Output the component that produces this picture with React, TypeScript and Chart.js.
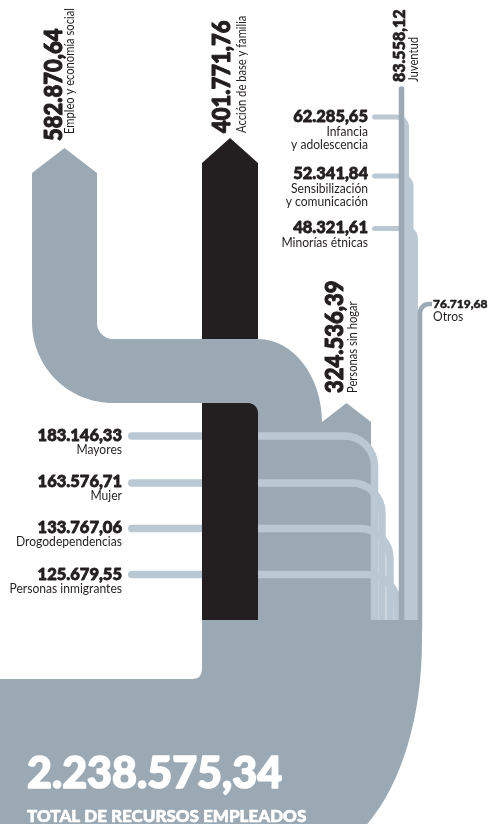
import React, { useEffect, useRef } from "react";
import { Chart, registerables } from "chart.js";

Chart.register(...registerables);

// ---------------- DATA ----------------
const mainNames = ["Empleo y economía social", "Acción de base y familia", "Personas sin hogar"];
const mainValues = [582870.64, 401771.76, 324536.39];

const leftNames = ["Mayores", "Mujer", "Drogodependencias", "Personas inmigrantes"];
const leftValues = [183146.33, 163576.71, 133767.06, 125679.55];

const rightNames = [["Infancia", "y adolescencia"], ["Sensibilización", "y comunicación"], ["Minorías étnicas"]];
const rightValues = [62285.65, 52341.84, 48321.61];

const youthName = "Juventud";
const youthValue = 83558.12;

const otherName = "Otros";
const otherValue = 76719.68;

const totalValue = 2238575.34;
const totalTitle = "TOTAL DE RECURSOS EMPLEADOS";

// ---------------- STYLE / LAYOUT ----------------
const W = 490;
const H = 824;
const GRAY = "#9ba9b4";
const LIGHT = "#bac8d4";
const BLACK = "#231f20";
const TEXT = "#231f20";
const NUM_FONT = "Lato";
const LBL_FONT = "Lato";
const LBL_SQUEEZE = 0.93;
const LBL_ROT_SQUEEZE = 0.86;
const NUM_SQUEEZE = 0.88;

const MERGE_Y = 620; // where all flows join the total
const L = {
  empleo: { left: 32, right: 97, tip: 148, shoulder: 173, hTop: 339, hBottom: 403, innerR: 16, outerR: 81, downLeft: 258, downRight: 322, bend: 422 },
  accion: { left: 202, right: 258, tip: 138, shoulder: 163, cornerR: 12 },
  sinHogar: { left: 322, right: 371, tip: 403, shoulder: 422 },
  total: { left: 202, right: 422, curveTop: 640, bottomX: 362, bottom: 830, notchY: 679, notchR: 10 },
  leftLines: { startX: 128, ys: [436, 483, 528.5, 574.5], xs: [374.5, 382, 390, 397.5], r: 30, w: 7.5, labelX: 122, numBase: [441, 487, 533, 580] },
  rightLines: { startX: 372, ys: [117, 176, 228.5], xs: [406.5, 411, 415.5], r: 10, w: 5, labelX: 368, numBase: [122, 179, 233] },
  youth: { x: 401.5, top: 89, w: 5.5 },
  other: { x: 420, y: 304, endX: 432, r: 9, w: 4.5 },
};

function fmt(v: number): string {
  const [i, d] = v.toFixed(2).split(".");
  return i.replace(/\B(?=(\d{3})+(?!\d))/g, ".") + "," + d;
}

const flowPlugin = {
  id: "flowPlugin",
  afterDraw(chart: any) {
    const ctx: CanvasRenderingContext2D = chart.ctx;
    const xs = chart.scales.x;
    const ys = chart.scales.y;
    const X = (v: number) => xs.getPixelForValue(v);
    const Y = (v: number) => ys.getPixelForValue(v);
    const R = (v: number) => Math.abs(X(v) - X(0));
    const K = 0.5523;

    ctx.save();

    // ---- black bar (Acción de base y familia), full height
    const a = L.accion;
    ctx.fillStyle = BLACK;
    ctx.beginPath();
    ctx.moveTo(X((a.left + a.right) / 2), Y(a.tip));
    ctx.lineTo(X(a.right), Y(a.shoulder));
    ctx.lineTo(X(a.right), Y(MERGE_Y));
    ctx.lineTo(X(a.left), Y(MERGE_Y));
    ctx.lineTo(X(a.left), Y(a.shoulder));
    ctx.closePath();
    ctx.fill();

    // ---- Empleo flow (gray)
    const e = L.empleo;
    ctx.fillStyle = GRAY;
    ctx.beginPath();
    ctx.moveTo(X((e.left + e.right) / 2), Y(e.tip));
    ctx.lineTo(X(e.right), Y(e.shoulder));
    ctx.lineTo(X(e.right), Y(e.hTop - e.innerR));
    ctx.bezierCurveTo(X(e.right), Y(e.hTop - e.innerR + e.innerR * K), X(e.right + e.innerR - e.innerR * K), Y(e.hTop), X(e.right + e.innerR), Y(e.hTop));
    ctx.lineTo(X(e.downLeft), Y(e.hTop));
    ctx.bezierCurveTo(X(e.downLeft + (e.downRight - e.downLeft) * 0.55), Y(e.hTop), X(e.downRight), Y(e.bend - (e.bend - e.hTop) * 0.55), X(e.downRight), Y(e.bend));
    ctx.lineTo(X(e.downRight), Y(MERGE_Y));
    ctx.lineTo(X(e.downLeft), Y(MERGE_Y));
    ctx.lineTo(X(e.downLeft), Y(e.hBottom + a.cornerR));
    ctx.quadraticCurveTo(X(e.downLeft), Y(e.hBottom), X(e.downLeft - a.cornerR), Y(e.hBottom));
    const ocx = e.left + e.outerR;
    ctx.lineTo(X(ocx), Y(e.hBottom));
    ctx.bezierCurveTo(X(ocx - e.outerR * K), Y(e.hBottom), X(e.left), Y(e.hBottom - e.outerR + e.outerR * K), X(e.left), Y(e.hBottom - e.outerR));
    ctx.lineTo(X(e.left), Y(e.shoulder));
    ctx.closePath();
    ctx.fill();

    // ---- Personas sin hogar arrow
    const s = L.sinHogar;
    ctx.beginPath();
    ctx.moveTo(X((s.left + s.right) / 2), Y(s.tip));
    ctx.lineTo(X(s.right), Y(s.shoulder));
    ctx.lineTo(X(s.right), Y(MERGE_Y));
    ctx.lineTo(X(s.left), Y(MERGE_Y));
    ctx.lineTo(X(s.left), Y(s.shoulder));
    ctx.closePath();
    ctx.fill();

    // ---- thin flows helper
    const bendLine = (x0: number, y0: number, vx: number, r: number, w: number, color: string) => {
      ctx.strokeStyle = color;
      ctx.lineWidth = R(w);
      ctx.lineCap = "round";
      ctx.lineJoin = "round";
      ctx.beginPath();
      ctx.moveTo(X(x0), Y(y0));
      ctx.lineTo(X(vx - r), Y(y0));
      ctx.bezierCurveTo(X(vx - r + r * K), Y(y0), X(vx), Y(y0 + r - r * K), X(vx), Y(y0 + r));
      ctx.lineTo(X(vx), Y(MERGE_Y + 10));
      ctx.stroke();
    };

    // left light flows
    const ll = L.leftLines;
    leftValues.forEach((_, i) => {
      bendLine(ll.startX + ll.w / 2, ll.ys[i], ll.xs[i], ll.r, ll.w, LIGHT);
    });

    // right light flows
    const rl = L.rightLines;
    rightValues.forEach((_, i) => {
      bendLine(rl.startX + rl.w / 2, rl.ys[i], rl.xs[i], rl.r, rl.w, LIGHT);
    });

    // youth line
    const yo = L.youth;
    ctx.strokeStyle = GRAY;
    ctx.lineWidth = R(yo.w);
    ctx.lineCap = "round";
    ctx.beginPath();
    ctx.moveTo(X(yo.x), Y(yo.top));
    ctx.lineTo(X(yo.x), Y(MERGE_Y + 10));
    ctx.stroke();

    // other line
    const o = L.other;
    ctx.lineWidth = R(o.w);
    ctx.lineCap = "butt";
    ctx.beginPath();
    ctx.moveTo(X(o.x), Y(MERGE_Y + 10));
    ctx.lineTo(X(o.x), Y(o.y + o.r));
    ctx.bezierCurveTo(X(o.x), Y(o.y + o.r - o.r * K), X(o.x + o.r - o.r * K), Y(o.y), X(o.x + o.r), Y(o.y));
    ctx.lineTo(X(o.endX), Y(o.y));
    ctx.stroke();

    // ---- black bar lower piece (above the light flows)
    ctx.fillStyle = BLACK;
    ctx.beginPath();
    ctx.moveTo(X(a.left), Y(e.hBottom));
    ctx.lineTo(X(a.right - a.cornerR), Y(e.hBottom));
    ctx.quadraticCurveTo(X(a.right), Y(e.hBottom), X(a.right), Y(e.hBottom + a.cornerR));
    ctx.lineTo(X(a.right), Y(MERGE_Y));
    ctx.lineTo(X(a.left), Y(MERGE_Y));
    ctx.closePath();
    ctx.fill();

    // ---- total flow
    const t = L.total;
    ctx.fillStyle = GRAY;
    ctx.beginPath();
    ctx.moveTo(X(t.left), Y(MERGE_Y));
    ctx.lineTo(X(t.right), Y(MERGE_Y));
    ctx.lineTo(X(t.right), Y(t.curveTop));
    ctx.bezierCurveTo(X(t.right), Y(720), X(400), Y(790), X(t.bottomX), Y(t.bottom));
    ctx.lineTo(X(0), Y(t.bottom));
    ctx.lineTo(X(0), Y(t.notchY));
    ctx.lineTo(X(t.left - t.notchR), Y(t.notchY));
    ctx.quadraticCurveTo(X(t.left), Y(t.notchY), X(t.left), Y(t.notchY - t.notchR));
    ctx.closePath();
    ctx.fill();

    // ---- texts
    const txt = (
      str: string,
      x: number,
      y: number,
      font: string,
      color: string,
      align: CanvasTextAlign,
      rot = false,
      strokeW = 0,
      squeeze = 1
    ) => {
      ctx.save();
      ctx.translate(X(x), Y(y));
      if (rot) ctx.rotate(-Math.PI / 2);
      if (squeeze !== 1) ctx.scale(squeeze, 1);
      ctx.font = font;
      ctx.fillStyle = color;
      ctx.textAlign = align;
      ctx.textBaseline = "alphabetic";
      ctx.fillText(str, 0, 0);
      if (strokeW > 0) {
        ctx.strokeStyle = color;
        ctx.lineWidth = strokeW;
        ctx.lineJoin = "round";
        ctx.strokeText(str, 0, 0);
      }
      ctx.restore();
    };
    const bigNum = `900 25px ${NUM_FONT}`;
    const midNum = `900 16.5px ${NUM_FONT}`;
    const lbl = `400 13px ${LBL_FONT}`;
    const lblRot = `400 13px ${LBL_FONT}`;

    // main (rotated)
    const mainPos = [
      { nx: 62, lx: 74, ny: 141, ly: 134 },
      { nx: 230, lx: 246, ny: 133, ly: 133 },
      { nx: 343, lx: 357, ny: 393, ly: 393 },
    ];
    mainValues.forEach((v, i) => {
      txt(fmt(v), mainPos[i].nx, mainPos[i].ny, bigNum, TEXT, "left", true, 1.1, NUM_SQUEEZE);
      txt(mainNames[i], mainPos[i].lx, mainPos[i].ly, lblRot, TEXT, "left", true, 0, LBL_ROT_SQUEEZE);
    });

    // youth (rotated)
    txt(fmt(youthValue), 405, 82, `900 16px ${NUM_FONT}`, TEXT, "left", true, 0.7);
    txt(youthName, 418, 82, lblRot, TEXT, "left", true, 0, LBL_ROT_SQUEEZE);

    // left group
    leftValues.forEach((v, i) => {
      txt(fmt(v), ll.labelX, ll.numBase[i], midNum, TEXT, "right", false, 0.8);
      txt(leftNames[i], ll.labelX, ll.numBase[i] + 13, lbl, TEXT, "right", false, 0, LBL_SQUEEZE);
    });

    // right group
    rightValues.forEach((v, i) => {
      txt(fmt(v), rl.labelX, rl.numBase[i], midNum, TEXT, "right", false, 0.8);
      rightNames[i].forEach((line, j) => {
        txt(line, rl.labelX, rl.numBase[i] + 13.5 + j * 13, lbl, TEXT, "right", false, 0, LBL_SQUEEZE);
      });
    });

    // other
    txt(fmt(otherValue), 433, 308, `900 12px ${NUM_FONT}`, TEXT, "left", false, 0.5);
    txt(otherName, 433, 320.5, lbl, TEXT, "left", false, 0, LBL_SQUEEZE);

    // total
    txt(fmt(totalValue), 27, 788, `900 43px ${NUM_FONT}`, "#ffffff", "left", false, 1.6);
    txt(totalTitle, 27, 822, `900 17px ${NUM_FONT}`, "#ffffff", "left", false, 0.6);

    ctx.restore();
  },
};

export default function App() {
  const ref = useRef<HTMLCanvasElement>(null);
  useEffect(() => {
    if (!ref.current) return;
    const chart = new Chart(ref.current, {
      type: "scatter",
      data: { datasets: [] },
      options: {
        animation: false,
        responsive: false,
        events: [],
        layout: { padding: 0 },
        plugins: { legend: { display: false }, tooltip: { enabled: false } },
        scales: {
          x: { type: "linear", min: 0, max: W, display: false },
          y: { type: "linear", min: 0, max: H, reverse: true, display: false },
        },
      },
      plugins: [flowPlugin],
    } as any);
    return () => chart.destroy();
  }, []);
  return (
    <div style={{ position: "absolute", left: 0, top: 0, width: W, height: H, background: "#ffffff", overflow: "hidden" }}>
      <canvas ref={ref} width={W} height={H} style={{ display: "block", width: W, height: H }} />
    </div>
  );
}
